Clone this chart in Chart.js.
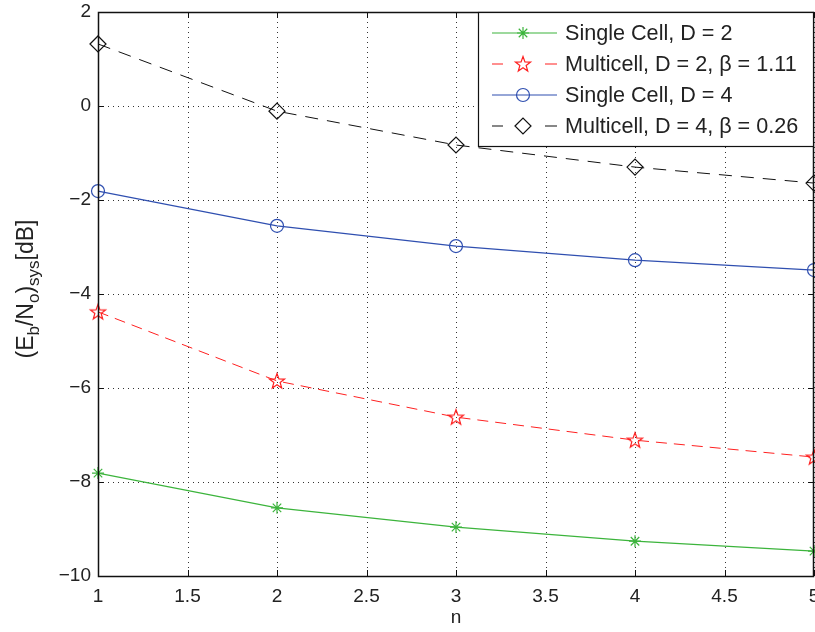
<!DOCTYPE html>
<html>
<head>
<meta charset="utf-8">
<script src="https://cdn.jsdelivr.net/npm/chart.js@4/dist/chart.umd.min.js"></script>
<style>
    html, body { margin: 0; padding: 0; background: #fff; }
    #wrap { width: 815px; height: 632px; }
</style>
</head>
<body>
<div id="wrap"><canvas id="chart" width="815" height="632"></canvas></div>
<script>
// data
const nValues = [1, 2, 3, 4, 5];
const singleCellD2 = [-7.81, -8.55, -8.96, -9.26, -9.47];
const multiCellD2 = [-4.38, -5.85, -6.62, -7.11, -7.47];
const singleCellD4 = [-1.81, -2.55, -2.98, -3.28, -3.49];
const multiCellD4 = [1.32, -0.11, -0.83, -1.30, -1.64];

const seriesLabels = [
    'Single Cell, D = 2',
    'Multicell, D = 2, \u03B2 = 1.11',
    'Single Cell, D = 4',
    'Multicell, D = 4, \u03B2 = 0.26'
];
const xTickValues = [1, 1.5, 2, 2.5, 3, 3.5, 4, 4.5, 5];
const xTickLabels = ['1', '1.5', '2', '2.5', '3', '3.5', '4', '4.5', '5'];
const yTickValues = [-10, -8, -6, -4, -2, 0, 2];
const yTickLabels = ['\u221210', '\u22128', '\u22126', '\u22124', '\u22122', '0', '2'];

const FONT = 'Arial, "Liberation Sans", Helvetica, sans-serif';

function pentagram(color) {
    const c = document.createElement('canvas');
    c.width = 20; c.height = 20;
    const g = c.getContext('2d');
    g.strokeStyle = color;
    g.lineWidth = 1.2;
    g.beginPath();
    for (let i = 0; i < 10; i++) {
        const r = i % 2 === 0 ? 8 : 3.3;
        const a = -Math.PI / 2 + i * Math.PI / 5;
        const px = 10 + r * Math.cos(a), py = 10.5 + r * Math.sin(a);
        if (i === 0) g.moveTo(px, py); else g.lineTo(px, py);
    }
    g.closePath();
    g.stroke();
    return c;
}

function toPoints(ys) {
    return nValues.map((x, i) => ({ x: x, y: ys[i] }));
}

const redStar = pentagram('#ff2020');

const datasets = [
    { label: seriesLabels[0], data: toPoints(singleCellD2), borderColor: '#3cb43c', borderWidth: 1.2,
      pointStyle: 'star', pointRadius: 6, pointBorderWidth: 1.2, borderDash: [] },
    { label: seriesLabels[1], data: toPoints(multiCellD2), borderColor: '#ff2020', borderWidth: 1,
      pointStyle: redStar, pointRadius: 8, borderDash: [11, 7] },
    { label: seriesLabels[2], data: toPoints(singleCellD4), borderColor: '#2f4fb0', borderWidth: 1.2,
      pointStyle: 'circle', pointRadius: 6.5, pointBorderWidth: 1.2, borderDash: [] },
    { label: seriesLabels[3], data: toPoints(multiCellD4), borderColor: '#111111', borderWidth: 1,
      pointStyle: 'rectRot', pointRadius: 8, pointBorderWidth: 1.2, borderDash: [13, 9] }
];
datasets.forEach(d => {
    d.pointBackgroundColor = 'rgba(0,0,0,0)';
    d.pointBorderColor = d.borderColor;
    d.fill = false;
    d.tension = 0;
    d.clip = false;
});

// grid, frame and inward ticks
const framePlugin = {
    id: 'frame',
    beforeDatasetsDraw(chart) {
        const { ctx, chartArea: a, scales } = chart;
        ctx.save();
        ctx.strokeStyle = '#333';
        ctx.lineWidth = 1;
        ctx.setLineDash([1, 4]);
        xTickValues.forEach(v => {
            const px = Math.round(scales.x.getPixelForValue(v)) + 0.5;
            ctx.beginPath(); ctx.moveTo(px, a.top); ctx.lineTo(px, a.bottom); ctx.stroke();
        });
        yTickValues.forEach(v => {
            const py = Math.round(scales.y.getPixelForValue(v)) + 0.5;
            ctx.beginPath(); ctx.moveTo(a.left, py); ctx.lineTo(a.right, py); ctx.stroke();
        });
        ctx.setLineDash([]);
        ctx.strokeStyle = '#111';
        xTickValues.forEach(v => {
            const px = Math.round(scales.x.getPixelForValue(v)) + 0.5;
            ctx.beginPath(); ctx.moveTo(px, a.bottom); ctx.lineTo(px, a.bottom - 6); ctx.stroke();
            ctx.beginPath(); ctx.moveTo(px, a.top); ctx.lineTo(px, a.top + 6); ctx.stroke();
        });
        yTickValues.forEach(v => {
            const py = Math.round(scales.y.getPixelForValue(v)) + 0.5;
            ctx.beginPath(); ctx.moveTo(a.left, py); ctx.lineTo(a.left + 6, py); ctx.stroke();
            ctx.beginPath(); ctx.moveTo(a.right, py); ctx.lineTo(a.right - 6, py); ctx.stroke();
        });
        ctx.restore();
    },
    afterDraw(chart) {
        const { ctx, chartArea: a } = chart;
        ctx.save();
        ctx.strokeStyle = '#111';
        ctx.lineWidth = 1.5;
        ctx.strokeRect(Math.round(a.left) + 0.5, Math.round(a.top) + 0.5,
            Math.round(a.right - a.left) - 1, Math.round(a.bottom - a.top));
        ctx.restore();
    }
};

// legend box drawn in the top right corner of the axes
const legendPlugin = {
    id: 'boxLegend',
    afterDraw(chart) {
        const { ctx, chartArea: a } = chart;
        const left = 478, top = a.top, right = a.right, bottom = 146;
        ctx.save();
        ctx.fillStyle = '#fff';
        ctx.fillRect(left, top, right - left, bottom - top);
        ctx.strokeStyle = '#111';
        ctx.lineWidth = 1.2;
        ctx.strokeRect(left + 0.5, top + 0.5, right - left - 1, bottom - top);
        chart.data.datasets.forEach((ds, i) => {
            const y = 33 + i * 31;
            ctx.strokeStyle = ds.borderColor;
            ctx.lineWidth = 1.2;
            ctx.beginPath();
            if (ds.borderDash.length) {
                ctx.moveTo(492, y); ctx.lineTo(503, y);
                ctx.moveTo(545, y); ctx.lineTo(557, y);
            } else {
                ctx.moveTo(492, y); ctx.lineTo(557, y);
            }
            ctx.stroke();
            ctx.fillStyle = 'rgba(0,0,0,0)';
            Chart.helpers.drawPoint(ctx, {
                pointStyle: ds.pointStyle, radius: ds.pointRadius, borderWidth: 1.2, rotation: 0
            }, 523, y);
            ctx.fillStyle = '#222';
            ctx.font = '21.6px ' + FONT;
            ctx.textBaseline = 'middle';
            ctx.textAlign = 'left';
            ctx.fillText(ds.label, 565, y + 1);
        });
        ctx.restore();
    }
};

// y axis label with subscripts
const yLabelPlugin = {
    id: 'yLabel',
    afterDraw(chart) {
        const { ctx } = chart;
        const parts = [
            { t: '(E', sub: false }, { t: 'b', sub: true }, { t: '/N', sub: false },
            { t: 'o', sub: true }, { t: ')', sub: false }, { t: 'sys', sub: true }, { t: '[dB]', sub: false }
        ];
        const big = '23px ' + FONT, small = '17px ' + FONT;
        let total = 0;
        parts.forEach(p => { ctx.font = p.sub ? small : big; p.w = ctx.measureText(p.t).width; total += p.w; });
        ctx.save();
        ctx.translate(33, 289);
        ctx.rotate(-Math.PI / 2);
        ctx.fillStyle = '#222';
        ctx.textBaseline = 'alphabetic';
        let x = -total / 2;
        parts.forEach(p => {
            ctx.font = p.sub ? small : big;
            ctx.fillText(p.t, x, p.sub ? 6 : 0);
            x += p.w;
        });
        ctx.restore();
    }
};

new Chart(document.getElementById('chart'), {
    type: 'line',
    data: { datasets: datasets },
    options: {
        responsive: false,
        animation: false,
        layout: { autoPadding: false, padding: { top: 12, right: 1, left: 0, bottom: 0 } },
        plugins: { legend: { display: false }, tooltip: { enabled: false } },
        scales: {
            x: {
                type: 'linear', min: 1, max: 5,
                grid: { display: false, drawTicks: false },
                border: { display: false },
                afterBuildTicks(scale) { scale.ticks = xTickValues.map(v => ({ value: v })); },
                afterFit(scale) { scale.height = 56; scale.paddingLeft = 0; scale.paddingRight = 0; },
                ticks: {
                    padding: 9, color: '#222', maxRotation: 0, autoSkip: false,
                    font: { size: 19, family: FONT },
                    callback: (v) => xTickLabels[xTickValues.indexOf(v)]
                },
                title: { display: true, text: 'n', color: '#222', font: { size: 19, family: FONT }, padding: { top: 0, bottom: 3 } }
            },
            y: {
                type: 'linear', min: -10, max: 2,
                grid: { display: false, drawTicks: false },
                border: { display: false },
                afterBuildTicks(scale) { scale.ticks = yTickValues.map(v => ({ value: v })); },
                afterFit(scale) { scale.width = 98; scale.paddingTop = 0; scale.paddingBottom = 0; },
                ticks: {
                    padding: 7, color: '#222', autoSkip: false,
                    font: { size: 19, family: FONT },
                    callback: (v) => yTickLabels[yTickValues.indexOf(v)]
                }
            }
        }
    },
    plugins: [framePlugin, legendPlugin, yLabelPlugin]
});
</script>
</body>
</html>
